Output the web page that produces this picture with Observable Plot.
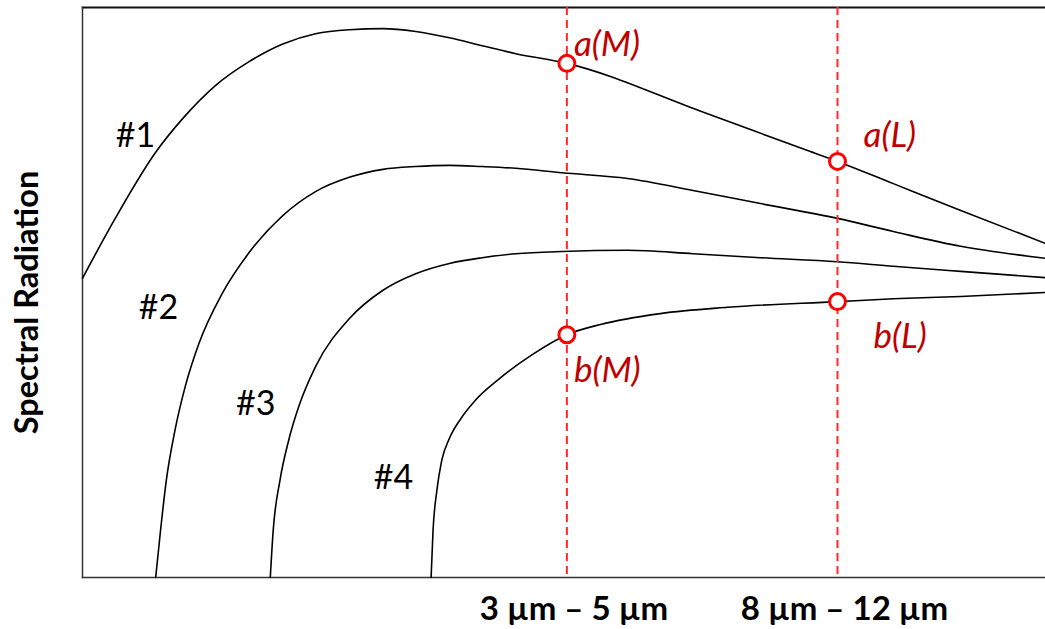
<!DOCTYPE html>
<html>
<head>
<meta charset="utf-8">
<script src="https://cdn.jsdelivr.net/npm/d3@7"></script>
<script src="https://cdn.jsdelivr.net/npm/@observablehq/plot@0.6"></script>
<style>
  html, body { margin: 0; padding: 0; background: #fff; }
  #chart svg { display: block; }
</style>
</head>
<body>
<div id="chart"></div>
<script>
// Spectral radiation curves (arbitrary wavelength / intensity units, 0–100)
const seriesNames = ["#1", "#2", "#3", "#4"];

const curve1 = [[0, 52.5], [3.4, 63.0], [7.6, 74.6], [10.4, 80.5], [13.8, 86.3], [17.3, 90.5],
  [20.8, 93.6], [24.2, 95.4], [27.7, 96.1], [31.2, 96.3], [34.6, 95.8], [38.1, 94.7],
  [41.5, 93.3], [45.0, 91.9], [50.3, 90.2], [64.2, 81.8], [75.3, 74.9], [78.4, 73.0],
  [84.2, 69.1], [91.2, 64.4], [100, 58.6]];
const curve2 = [[7.6, 0], [8.1, 8.2], [8.7, 17.0], [9.6, 25.8], [10.7, 33.7], [12.1, 41.1],
  [14.5, 49.8], [17.3, 57.0], [20.8, 63.5], [24.2, 67.7], [27.7, 70.2], [31.2, 71.6],
  [34.6, 72.1], [38.1, 72.3], [41.5, 72.1], [45.0, 71.8], [49.8, 71.0], [56.6, 70.0],
  [63.4, 67.9], [70.4, 65.6], [78.4, 63.0], [84.2, 60.7], [91.2, 58.1], [100, 56.0]];
const curve3 = [[19.5, 0], [19.8, 8.2], [20.5, 17.0], [21.4, 24.0], [22.5, 30.2], [24.2, 37.0],
  [27.7, 45.4], [31.2, 50.4], [34.6, 53.3], [38.1, 55.1], [41.5, 56.1], [45.0, 56.8],
  [49.8, 57.2], [56.6, 57.4], [63.4, 56.8], [70.4, 56.1], [78.4, 55.4], [84.2, 54.6],
  [91.2, 53.7], [100, 52.6]];
const curve4 = [[36.2, 0], [36.4, 8.2], [36.8, 15.3], [37.3, 20.5], [38.1, 24.4], [39.3, 27.9],
  [40.8, 31.1], [43.3, 34.9], [46.7, 39.1], [50.3, 42.6], [53.8, 44.4], [60.0, 46.3],
  [67.0, 47.4], [78.4, 48.4], [84.2, 48.9], [91.2, 49.3], [100, 50.0]];

// Where each curve name is written (data units)
const seriesLabelAt = [[5.5, 77.5], [7.9, 47.2], [18.0, 30.4], [32.3, 17.4]];

// Atmospheric windows
const bandX = [50.3, 78.4];
const bandLabels = ["3 µm – 5 µm", "8 µm – 12 µm"];

// Marked radiance values at the two windows
const markerNames = ["a(M)", "a(L)", "b(M)", "b(L)"];
const markerX = [50.3, 78.4, 50.3, 78.4];
const markerY = [90.2, 73.0, 42.6, 48.4];

const curves = [curve1, curve2, curve3, curve4];
const lineData = curves.flatMap((c, i) => c.map(([x, y]) => ({series: seriesNames[i], x, y})));
const seriesLabels = seriesNames.map((name, i) => ({name, x: seriesLabelAt[i][0], y: seriesLabelAt[i][1]}));
const markers = markerNames.map((name, i) => ({name, x: markerX[i], y: markerY[i]}));

const FONT = "Lato, 'Open Sans', 'DejaVu Sans', sans-serif";
const RED_LINE = "#ff2a2a";
const RED_TEXT = "#c00000";

// label offsets (px) for the marker annotations
const markerOffsets = {"a(M)": [7, -19], "a(L)": [26, -26], "b(M)": [7, 36], "b(L)": [36, 35]};

const chart = Plot.plot({
  width: 1045,
  height: 629,
  marginLeft: 82,
  marginRight: 0,
  marginTop: 7,
  marginBottom: 52,
  style: {fontFamily: FONT, background: "#fff", color: "#000"},
  x: {domain: [0, 100]},
  y: {domain: [0, 100], axis: null},
  marks: [
    Plot.frame({anchor: "top", stroke: "#111", strokeWidth: 1.8}),
    Plot.frame({anchor: "bottom", stroke: "#333", strokeWidth: 1.5}),
    Plot.frame({anchor: "left", stroke: "#333", strokeWidth: 1.5}),
    Plot.axisX(bandX, {
      tickSize: 0,
      tickPadding: 19,
      dx: 7,
      tickFormat: (d, i) => bandLabels[i],
      fontSize: 33,
      fontWeight: "bold",
      fill: "#000",
      label: null
    }),
    Plot.text(["Spectral Radiation"], {
      frameAnchor: "left",
      text: d => d,
      rotate: -90,
      dx: -55,
      dy: 10,
      fontSize: 32.5,
      fontWeight: "bold",
      fill: "#000",
      textAnchor: "middle"
    }),
    Plot.line(lineData, {
      x: "x", y: "y", z: "series",
      curve: "monotone-x",
      stroke: "#000",
      strokeWidth: 1.6
    }),
    Plot.ruleX(bandX, {stroke: RED_LINE, strokeWidth: 2, strokeDasharray: "8,5"}),
    Plot.text(seriesLabels, {
      x: "x", y: "y", text: "name",
      fontSize: 34,
      fill: "#000"
    }),
    Plot.dot(markers, {
      x: "x", y: "y",
      r: 8,
      stroke: "#ff0000",
      strokeWidth: 3,
      fill: "#fff"
    }),
    ...markers.map(m => Plot.text([m], {
      x: "x", y: "y", text: "name",
      dx: markerOffsets[m.name][0],
      dy: markerOffsets[m.name][1],
      textAnchor: "start",
      fontSize: 35,
      fontStyle: "italic",
      fill: RED_TEXT
    }))
  ]
});

document.getElementById("chart").appendChild(chart);
</script>
</body>
</html>
